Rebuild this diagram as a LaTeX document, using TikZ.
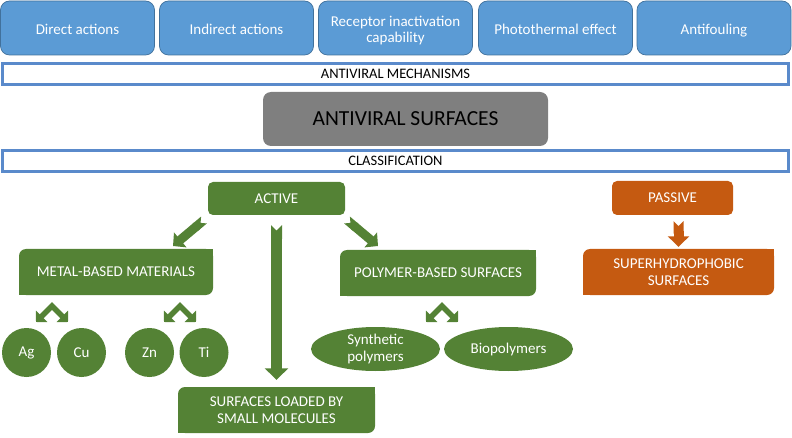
\documentclass[tikz,border=0pt]{standalone}
\usepackage{fontspec}
\setmainfont{Carlito}
\usetikzlibrary{arrows.meta,shapes.geometric}
\definecolor{blueF}{HTML}{5B9BD5}
\definecolor{blueD}{HTML}{41719C}
\definecolor{barB}{HTML}{5A8ACB}
\definecolor{greenF}{HTML}{548235}
\definecolor{orangeF}{HTML}{C55A11}
\definecolor{grayF}{HTML}{7F7F7F}
\newcommand\sqcorners[2]{%
  \fill[#2] (#1.north east) rectangle ([xshift=-8pt,yshift=-8pt]#1.north east);
  \fill[#2] (#1.south west) rectangle ([xshift=8pt,yshift=8pt]#1.south west);}
\begin{document}
\begin{tikzpicture}[x=1pt,y=-1pt,
  topbox/.style={draw=blueD, line width=0.7pt, fill=blueF, rounded corners=9pt, text=white,
     font=\fontsize{15}{16.5}\selectfont, align=center, inner sep=0pt,
     minimum width=154pt, minimum height=54pt},
  oneline/.style={text height=14pt, text depth=1pt},
  bar/.style={draw=barB, line width=2.6pt, fill=white, font=\fontsize{14.5}{16}\selectfont,
     inner sep=0pt, minimum width=786pt, minimum height=21.4pt},
  gbox/.style={fill=greenF, rounded corners=5pt, text=white, font=\fontsize{15}{17}\selectfont,
     align=center, inner sep=0pt},
  dbox/.style={gbox, rounded corners=7pt},
  obox/.style={gbox, fill=orangeF},
  ball/.style={circle, fill=greenF, text=white, font=\fontsize{15}{16}\selectfont,
     minimum size=49pt, inner sep=0pt},
  oval/.style={ellipse, fill=greenF, text=white, font=\fontsize{15}{17}\selectfont,
     minimum width=129pt, minimum height=44pt, inner sep=0pt, align=center},
  blk/.style={line width=#1, {Triangle Cap[reversed]}-{Triangle[width=2*#1+1pt,length=#1+0.5pt]}},
  chev/.style={greenF, line width=5.5pt, line join=miter,
     {Triangle[width=16pt,length=8pt]}-{Triangle[width=16pt,length=8pt]}}
]
\useasboundingbox (0,0) rectangle (792,438);

% top mechanism boxes
\node[topbox, oneline] (m1) at (77.5,28) {Direct actions};
\node[topbox, oneline] (m2) at (236.5,28) {Indirect actions};
\node[topbox, text height=30pt, text depth=0pt] (m3) at (395.5,28) {Receptor inactivation\\capability};
\node[topbox, oneline] (m4) at (555.5,28) {Photothermal effect};
\node[topbox, oneline] (m5) at (714,28) {Antifouling};

% bars and title
\node[bar] (mech) at (395.5,74) {ANTIVIRAL MECHANISMS};
\node[fill=grayF, rounded corners=8pt, minimum width=285pt, minimum height=54pt, inner sep=0pt,
      font=\fontsize{21.5}{24}\selectfont] (title) at (405.5,119) {ANTIVIRAL SURFACES};
\node[bar] (cls) at (395.5,161) {CLASSIFICATION};

% active branch
\node[gbox, minimum width=137pt, minimum height=33pt] (active) at (276.5,198.5) {ACTIVE};
\node[dbox, minimum width=194pt, minimum height=46pt] (metal) at (116,272) {METAL-BASED MATERIALS};
\sqcorners{metal}{greenF}
\node[dbox, minimum width=196pt, minimum height=46pt] (poly) at (438,273) {POLYMER-BASED SURFACES};
\sqcorners{poly}{greenF}
\node[dbox, minimum width=197pt, minimum height=46pt] (loaded) at (276.5,410) {SURFACES LOADED BY\\SMALL MOLECULES};
\sqcorners{loaded}{greenF}

\node[ball] (ag) at (26.5,352.5) {Ag};
\node[ball] (cu) at (81.5,352.5) {Cu};
\node[ball] (zn) at (149.5,352.5) {Zn};
\node[ball] (ti) at (204,352.5) {Ti};
\node[oval] (syn) at (375.5,349) {Synthetic\\polymers};
\node[oval] (bio) at (508.5,349) {Biopolymers};

% passive branch
\node[obox, minimum width=121pt, minimum height=34pt] (passive) at (672.5,198) {PASSIVE};
\node[obox, rounded corners=7pt, minimum width=191pt, minimum height=46pt] (superh) at (678.5,272) {SUPERHYDROPHOBIC\\SURFACES};
\sqcorners{superh}{orangeF}

% block arrows
\coordinate (la1) at (204,220);
\coordinate (la2) at (173,246);
\coordinate (ra1) at (347,220);
\coordinate (ra2) at (378,246);
\draw[greenF, blk=9pt] (la1) -- (la2);
\draw[greenF, blk=9pt] (ra1) -- (ra2);
\draw[greenF, blk=11pt, shorten <=10pt, shorten >=7pt] (active.south) -- (loaded.north);
\draw[orangeF, blk=10pt, shorten <=6pt, shorten >=2pt] (passive.south -| superh.north) -- (superh.north);

% chevron arrows
\coordinate (c1) at (52,306);
\coordinate (c2) at (180,306);
\coordinate (c3) at (442,306);
\draw[chev] ([xshift=-16pt,yshift=-16pt]c1) -- (c1) -- ([xshift=16pt,yshift=-16pt]c1);
\draw[chev] ([xshift=-16pt,yshift=-16pt]c2) -- (c2) -- ([xshift=16pt,yshift=-16pt]c2);
\draw[chev] ([xshift=-16pt,yshift=-16pt]c3) -- (c3) -- ([xshift=16pt,yshift=-16pt]c3);
\end{tikzpicture}
\end{document}
